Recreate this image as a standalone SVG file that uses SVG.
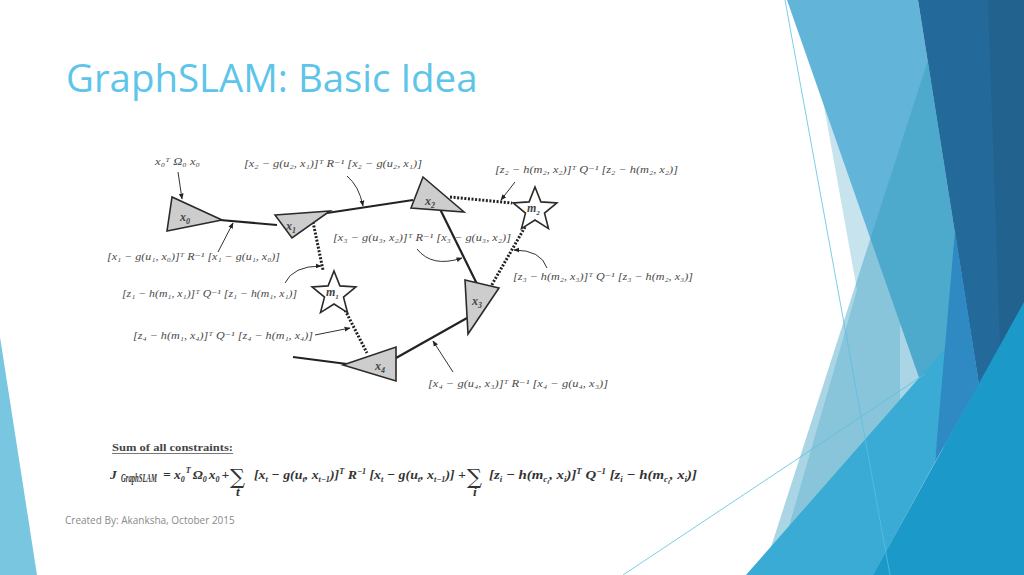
<svg xmlns="http://www.w3.org/2000/svg" width="1024" height="575" viewBox="0 0 1024 575">
<defs>
<style>
.title{font-family:"Open Sans","Noto Sans",sans-serif;font-size:38.4px;fill:#5cc5e9}
.foot{font-family:"Open Sans","Noto Sans",sans-serif;font-size:10px;fill:#8a8a8a}
.lbl{font-family:"Liberation Serif","DejaVu Serif",serif;font-style:italic;font-size:10px;fill:#4a4a4a}
.nd{font-family:"Liberation Serif","DejaVu Serif",serif;font-style:italic;font-weight:bold;font-size:12px;fill:#444}
.tri{fill:#cdcdcd;stroke:#2a2a2a;stroke-width:1.6;stroke-linejoin:miter}
.star{fill:#fff;stroke:#2a2a2a;stroke-width:1.6;stroke-linejoin:miter}
.edge{stroke:#222;stroke-width:2.2;fill:none}
.dot{stroke:#222;stroke-width:3;stroke-dasharray:2 1.6;fill:none}
.lead{stroke:#333;stroke-width:1;fill:none;marker-end:url(#ah)}
.eq{font-family:"Liberation Serif","DejaVu Serif",serif;font-style:italic;font-weight:bold;font-size:13.5px;fill:#333}
.s{font-size:8px}
.ss{font-size:6px}
.sig{font-family:"DejaVu Serif","Liberation Serif",serif;font-size:21px;fill:#333}
.thin{stroke:#5bc0de;stroke-width:0.8;fill:none}
</style>
<marker id="ah" viewBox="0 0 10 10" refX="9" refY="5" markerWidth="6" markerHeight="6" orient="auto-start-reverse"><path d="M0,1 L10,5 L0,9 z" fill="#222"/></marker>
<path id="starShape" d="M0,-23 L5.9,-8.1 L21.9,-7.1 L9.5,3.1 L13.5,18.6 L0,10 L-13.5,18.6 L-9.5,3.1 L-21.9,-7.1 L-5.9,-8.1 Z"/>
</defs>

<rect x="0" y="0" width="1024" height="575" fill="#ffffff"/>

<!-- background decoration -->
<g id="decor">
  <polygon points="0,337 37,575 0,575" fill="#78c6e0"/>
  <polygon points="805,0 857,290 775,575 900,575 900,0" fill="#c6e3ee"/>
  <polygon points="787,0 918,0 1009,575 988,575" fill="#62b5d8"/>
  <polygon points="918,0 1024,0 1024,575 1009,575" fill="#236a9a"/>
  <polygon points="988,0 1024,0 1024,302 1000,346" fill="#21628f"/>
  <polygon points="928,60 1009,575 762,575" fill="#329bbe" fill-opacity="0.42"/>
  <polygon points="746,575 948,345 935,462 873,575" fill="#3aabd5"/>
  <polygon points="955,231 979,384 935,462" fill="#2f89c2"/>
  <polygon points="873,575 1024,302 1024,575" fill="#1b99c9"/>
  <line class="thin" x1="785" y1="0" x2="890" y2="575"/>
  <line class="thin" x1="623" y1="575" x2="925" y2="374"/>
</g>

<text class="title" x="66" y="92">GraphSLAM: Basic Idea</text>

<!-- connectors -->
<g id="connectors">
  <line class="edge" x1="220" y1="220" x2="277" y2="225"/>
  <line class="edge" x1="327" y1="213" x2="413" y2="200"/>
  <line class="edge" x1="440" y1="209" x2="477" y2="284"/>
  <line class="edge" x1="467" y1="318" x2="396" y2="358"/>
  <line class="edge" x1="293" y1="357" x2="347" y2="364"/>
  <line class="dot" x1="313" y1="222" x2="323" y2="270"/>
  <line class="dot" x1="345" y1="310" x2="367" y2="353"/>
  <line class="dot" x1="450" y1="197" x2="512" y2="203"/>
  <line class="dot" x1="525" y1="227" x2="490" y2="288"/>
</g>

<!-- nodes -->
<g id="node-x0">
  <polygon class="tri" points="172,197 167,231 222,220"/>
  <text class="nd" x="180" y="221">x<tspan font-size="8" dy="3">0</tspan></text>
</g>
<g id="node-x1">
  <polygon class="tri" points="275,215 330,211 292,238"/>
  <text class="nd" x="286" y="230">x<tspan font-size="8" dy="3">1</tspan></text>
</g>
<g id="node-x2">
  <polygon class="tri" points="423,177 464,212 411,208"/>
  <text class="nd" x="425" y="205">x<tspan font-size="8" dy="3">2</tspan></text>
</g>
<g id="node-x3">
  <polygon class="tri" points="465,280 499,288 468,334"/>
  <text class="nd" x="472" y="305">x<tspan font-size="8" dy="3">3</tspan></text>
</g>
<g id="node-x4">
  <polygon class="tri" points="343,365 396,347 396,381"/>
  <text class="nd" x="375" y="370">x<tspan font-size="8" dy="3">4</tspan></text>
</g>
<g id="node-m1">
  <use href="#starShape" class="star" transform="translate(334,294)"/>
  <text class="nd" x="326" y="296" font-size="11">m<tspan font-size="7" dy="3">1</tspan></text>
</g>
<g id="node-m2">
  <use href="#starShape" class="star" transform="translate(535,210)"/>
  <text class="nd" x="527" y="212" font-size="11">m<tspan font-size="7" dy="3">2</tspan></text>
</g>

<!-- labels and leaders -->
<g id="labels">
  <text class="lbl" x="155" y="165" textLength="45" lengthAdjust="spacingAndGlyphs">x₀ᵀ Ω₀ x₀</text>
  <path class="lead" d="M178,172 L182,199"/>

  <text class="lbl" x="244" y="167" textLength="178" lengthAdjust="spacingAndGlyphs">[x₂ − g(u₂, x₁)]ᵀ R⁻¹ [x₂ − g(u₂, x₁)]</text>
  <path class="lead" d="M347,176 Q359,186 363,206"/>

  <text class="lbl" x="495" y="173" textLength="183" lengthAdjust="spacingAndGlyphs">[z₂ − h(m₂, x₂)]ᵀ Q⁻¹ [z₂ − h(m₂, x₂)]</text>
  <path class="lead" d="M515,182 L501,200"/>

  <text class="lbl" x="107" y="260" textLength="173" lengthAdjust="spacingAndGlyphs">[x₁ − g(u₁, x₀)]ᵀ R⁻¹ [x₁ − g(u₁, x₀)]</text>
  <path class="lead" d="M218,252 L233,223"/>

  <text class="lbl" x="333" y="241" textLength="178" lengthAdjust="spacingAndGlyphs">[x₃ − g(u₃, x₂)]ᵀ R⁻¹ [x₃ − g(u₃, x₂)]</text>
  <path class="lead" d="M417,249 Q432,268 462,258"/>

  <text class="lbl" x="513" y="280" textLength="180" lengthAdjust="spacingAndGlyphs">[z₃ − h(m₂, x₃)]ᵀ Q⁻¹ [z₃ − h(m₂, x₃)]</text>
  <path class="lead" d="M547,268 Q541,250 514,250"/>

  <text class="lbl" x="122" y="297" textLength="175" lengthAdjust="spacingAndGlyphs">[z₁ − h(m₁, x₁)]ᵀ Q⁻¹ [z₁ − h(m₁, x₁)]</text>
  <path class="lead" d="M285,283 Q293,266 321,266"/>

  <text class="lbl" x="133" y="339" textLength="180" lengthAdjust="spacingAndGlyphs">[z₄ − h(m₁, x₄)]ᵀ Q⁻¹ [z₄ − h(m₁, x₄)]</text>
  <path class="lead" d="M315,335 L350,328"/>

  <text class="lbl" x="428" y="387" textLength="180" lengthAdjust="spacingAndGlyphs">[x₄ − g(u₄, x₃)]ᵀ R⁻¹ [x₄ − g(u₄, x₃)]</text>
  <path class="lead" d="M453,372 L433,341"/>
</g>

<!-- sum of constraints -->
<g id="equation">
  <text x="112" y="451" font-family="Liberation Serif, DejaVu Serif, serif" font-weight="bold" font-size="11" fill="#444" textLength="121" lengthAdjust="spacingAndGlyphs">Sum of all constraints:</text>
  <line x1="112" y1="453.5" x2="233" y2="453.5" stroke="#555" stroke-width="0.8"/>
  <text class="eq" x="110" y="479" font-size="15">J</text>
  <text class="eq" x="121" y="482" font-size="6.5" textLength="36" lengthAdjust="spacingAndGlyphs">GraphSLAM</text>
  <text class="eq" x="163" y="479">= x<tspan class="s" dy="3">0</tspan><tspan class="s" dx="1" dy="-9">T</tspan><tspan dx="2" dy="6">Ω</tspan><tspan class="s" dy="3">0</tspan><tspan dx="2" dy="-3">x</tspan><tspan class="s" dy="3">0</tspan><tspan dx="2" dy="-3">+</tspan></text>
  <text class="sig" x="230" y="484">∑</text>
  <text class="eq" x="236" y="496" font-size="6">t</text>
  <text class="eq" x="254" y="479" textLength="212" lengthAdjust="spacingAndGlyphs">[x<tspan class="s" dy="3">t</tspan><tspan dy="-3"> − g(u</tspan><tspan class="s" dy="3">t</tspan><tspan dy="-3">, x</tspan><tspan class="s" dy="3">t−1</tspan><tspan dy="-3">)]</tspan><tspan class="s" dy="-5">T</tspan><tspan dy="5"> R</tspan><tspan class="s" dy="-5">−1</tspan><tspan dy="5"> [x</tspan><tspan class="s" dy="3">t</tspan><tspan dy="-3"> − g(u</tspan><tspan class="s" dy="3">t</tspan><tspan dy="-3">, x</tspan><tspan class="s" dy="3">t−1</tspan><tspan dy="-3">)] +</tspan></text>
  <text class="sig" x="467" y="484">∑</text>
  <text class="eq" x="473" y="496" font-size="6">i</text>
  <text class="eq" x="489" y="479" textLength="208" lengthAdjust="spacingAndGlyphs">[z<tspan class="s" dy="3">i</tspan><tspan dy="-3"> − h(m</tspan><tspan class="s" dy="3">c</tspan><tspan class="ss" dy="2">i</tspan><tspan dy="-5">, x</tspan><tspan class="s" dy="3">i</tspan><tspan dy="-3">)]</tspan><tspan class="s" dy="-5">T</tspan><tspan dy="5"> Q</tspan><tspan class="s" dy="-5">−1</tspan><tspan dy="5"> [z</tspan><tspan class="s" dy="3">i</tspan><tspan dy="-3"> − h(m</tspan><tspan class="s" dy="3">c</tspan><tspan class="ss" dy="2">i</tspan><tspan dy="-5">, x</tspan><tspan class="s" dy="3">i</tspan><tspan dy="-3">)]</tspan></text>
</g>

<text class="foot" x="65" y="524">Created By: Akanksha, October 2015</text>
</svg>
